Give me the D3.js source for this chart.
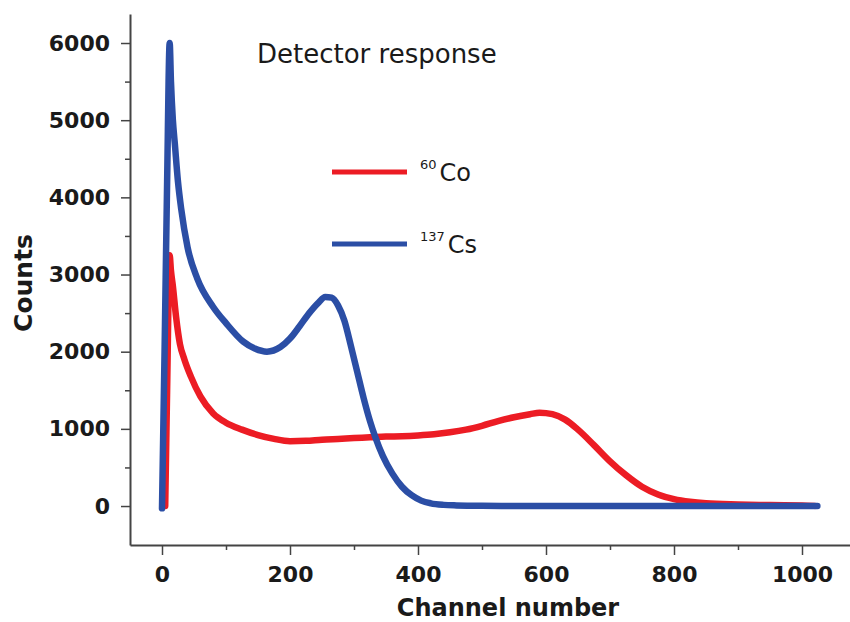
<!DOCTYPE html>
<html>
<head>
<meta charset="utf-8">
<script src="https://cdn.jsdelivr.net/npm/d3@7/dist/d3.min.js"></script>
<style>
  body { margin: 0; background: #fff; }
  svg text { font-family: "DejaVu Sans", sans-serif; fill: #1a1a1a; }
</style>
</head>
<body>
<svg id="chart" width="850" height="622"></svg>
<script>
// 60Co spectrum (channel, counts)
const coChannel = [5, 8, 12, 14, 17, 22, 28, 35, 45, 60, 80, 100, 125, 150, 175, 200, 225, 250, 275, 300, 325, 350, 375, 400, 425, 450, 475, 500, 525, 550, 575, 590, 610, 630, 650, 675, 700, 725, 750, 775, 800, 825, 850, 900, 950, 1000, 1020]
const coCounts = [0, 1500, 3250, 3050, 2850, 2450, 2100, 1900, 1680, 1420, 1200, 1080, 990, 920, 870, 840, 845, 860, 870, 880, 890, 900, 905, 915, 930, 955, 990, 1040, 1100, 1150, 1190, 1210, 1190, 1120, 990, 790, 580, 400, 250, 150, 90, 55, 35, 20, 12, 6, 2]

// 137Cs spectrum (channel, counts)
const csChannel = [0, 4, 8, 12, 14, 17, 20, 25, 30, 40, 55, 80, 100, 127, 145, 164, 185, 200, 215, 230, 245, 255, 265, 275, 285, 295, 305, 315, 325, 333, 345, 360, 375, 390, 405, 420, 440, 460, 500, 600, 800, 1024]
const csCounts = [-30, 2000, 4200, 6000, 5500, 5000, 4700, 4200, 3850, 3350, 2950, 2580, 2370, 2130, 2040, 2000, 2060, 2170, 2330, 2500, 2640, 2710, 2700, 2600, 2400, 2080, 1740, 1400, 1100, 900, 650, 420, 250, 140, 70, 35, 15, 8, 3, 0, 0, 0]

const xTicks = [0, 200, 400, 600, 800, 1000]
const xMinor = [100, 300, 500, 700, 900]
const yTicks = [0, 1000, 2000, 3000, 4000, 5000, 6000]
const yMinor = [500, 1500, 2500, 3500, 4500, 5500]

const legendItems = [
  {sup: "60", name: "Co", color: "#ec1c24"},
  {sup: "137", name: "Cs", color: "#2b4ea5"}
]

const svg = d3.select("#chart")

const x = d3.scaleLinear().domain([-50, 1075]).range([130, 850])
const y = d3.scaleLinear().domain([-505, 6376]).range([545, 14])

const spineColor = "#444"
const fmt = d3.format("d")

// minor ticks
svg.append("g")
  .attr("transform", "translate(130,0)")
  .call(d3.axisLeft(y).tickValues(yMinor).tickSize(5).tickFormat(""))
  .call(g => g.select(".domain").remove())
  .call(g => g.selectAll("line").attr("stroke", spineColor).attr("stroke-width", 1.5))

svg.append("g")
  .attr("transform", "translate(0,545)")
  .call(d3.axisBottom(x).tickValues(xMinor).tickSize(5).tickFormat(""))
  .call(g => g.select(".domain").remove())
  .call(g => g.selectAll("line").attr("stroke", spineColor).attr("stroke-width", 1.5))

// major axes
svg.append("g")
  .attr("transform", "translate(130,0)")
  .call(d3.axisLeft(y).tickValues(yTicks).tickFormat(fmt).tickSize(9).tickSizeOuter(0).tickPadding(11))
  .call(g => g.select(".domain").attr("stroke", spineColor).attr("stroke-width", 2))
  .call(g => g.selectAll("line").attr("stroke", spineColor).attr("stroke-width", 1.5))
  .call(g => g.selectAll("text")
    .attr("font-family", "DejaVu Sans").attr("font-weight", "bold").attr("font-size", 22).attr("fill", "#1a1a1a"))

svg.append("g")
  .attr("transform", "translate(0,545)")
  .call(d3.axisBottom(x).tickValues(xTicks).tickFormat(fmt).tickSize(10).tickSizeOuter(0).tickPadding(11))
  .call(g => g.select(".domain").attr("stroke", spineColor).attr("stroke-width", 2))
  .call(g => g.selectAll("line").attr("stroke", spineColor).attr("stroke-width", 1.5))
  .call(g => g.selectAll("text")
    .attr("font-family", "DejaVu Sans").attr("font-weight", "bold").attr("font-size", 22).attr("fill", "#1a1a1a"))

// axis titles
svg.append("text")
  .attr("x", 508).attr("y", 616)
  .attr("text-anchor", "middle")
  .attr("font-weight", "bold").attr("font-size", 24)
  .text("Channel number")

svg.append("text")
  .attr("transform", "translate(32,283) rotate(-90)")
  .attr("text-anchor", "middle")
  .attr("font-weight", "bold").attr("font-size", 25)
  .text("Counts")

svg.append("text")
  .attr("x", 257).attr("y", 63)
  .attr("font-size", 26)
  .text("Detector response")

// spectra
const line = d3.line()
  .x(d => x(d[0]))
  .y(d => y(d[1]))
  .curve(d3.curveMonotoneX)

svg.append("path")
  .datum(d3.zip(coChannel, coCounts))
  .attr("d", line)
  .attr("fill", "none")
  .attr("stroke", legendItems[0].color)
  .attr("stroke-width", 6.5)
  .attr("stroke-linejoin", "round")
  .attr("stroke-linecap", "round")

svg.append("path")
  .datum(d3.zip(csChannel, csCounts))
  .attr("d", line)
  .attr("fill", "none")
  .attr("stroke", legendItems[1].color)
  .attr("stroke-width", 6.5)
  .attr("stroke-linejoin", "round")
  .attr("stroke-linecap", "round")

// legend
const legend = svg.append("g")
  .selectAll("g")
  .data(legendItems)
  .join("g")
  .attr("transform", (d, i) => `translate(0,${172 + i * 72})`)

legend.append("line")
  .attr("x1", 332).attr("x2", 407)
  .attr("stroke", d => d.color)
  .attr("stroke-width", 5)

legend.append("text")
  .attr("x", 420).attr("y", 9)
  .call(t => t.append("tspan")
    .attr("font-size", 13).attr("dy", -12)
    .text(d => d.sup))
  .call(t => t.append("tspan")
    .attr("font-size", 24).attr("dy", 12).attr("dx", 3)
    .text(d => d.name))
</script>
</body>
</html>
